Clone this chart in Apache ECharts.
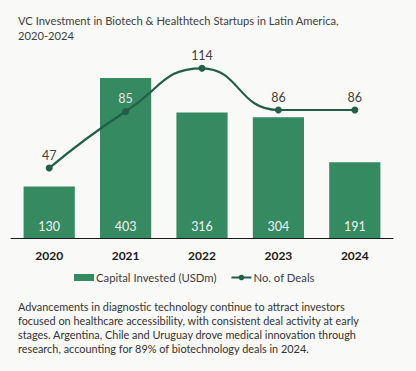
<!DOCTYPE html>
<html><head><meta charset="utf-8">
<script src="https://cdn.jsdelivr.net/npm/echarts@6/dist/echarts.min.js"></script>
<style>html,body{margin:0;padding:0;background:#f9f9f7;}#c{width:416px;height:371px;}</style>
</head><body><div id="c"></div>
<script>
const categories = ['2020','2021','2022','2023','2024'];
const capitalInvested = [130,403,316,304,191];
const numDeals = [47,85,114,86,86];
const titleText = 'VC Investment in Biotech & Healthtech Startups in Latin America,\n2020-2024';
const noteText = 'Advancements in diagnostic technology continue to attract investors\nfocused on healthcare accessibility, with consistent deal activity at early\nstages. Argentina, Chile and Uruguay drove medical innovation through\nresearch, accounting for 89% of biotechnology deals in 2024.';
const FONT = 'Lato';
const chart = echarts.init(document.getElementById('c'), null, {renderer:'svg'});
chart.setOption({
  backgroundColor:'#f9f9f7',
  animation:false,
  title:[
    {text:titleText,left:13,top:8,textStyle:{fontFamily:FONT,fontSize:11.2,fontWeight:'normal',color:'#404040',lineHeight:15}},
    {text:noteText,left:13,top:294,textStyle:{fontFamily:FONT,fontSize:10.9,fontWeight:'normal',color:'#333',lineHeight:14}}
  ],
  legend:{
    top:267,left:69,itemGap:14,itemWidth:20,itemHeight:7,
    textStyle:{fontFamily:FONT,fontSize:11.3,color:'#404040',padding:[0,0,0,-3]},
    data:[{name:'Capital Invested (USDm)',icon:'rect'},{name:'No. of Deals'}]
  },
  grid:{left:11,right:23,top:59.4,bottom:133,containLabel:false},
  xAxis:{type:'category',data:categories,
    axisLine:{lineStyle:{color:'#1a1a1a',width:1}},axisTick:{show:false},
    axisLabel:{fontFamily:FONT,fontSize:12,fontWeight:'bold',color:'#1a1a1a',margin:11}},
  yAxis:[
    {type:'value',min:0,max:450,show:false,splitLine:{show:false}},
    {type:'value',min:0,max:120,show:false,splitLine:{show:false}}
  ],
  series:[
    {name:'Capital Invested (USDm)',type:'bar',data:capitalInvested,barWidth:'67%',yAxisIndex:0,
     itemStyle:{color:'#358a61'},
     label:{show:true,position:'insideBottom',distance:5,color:'#f2f2f2',fontFamily:FONT,fontSize:12.5}},
    {name:'No. of Deals',type:'line',
     data:numDeals.map((v,i)=>i===1?{value:v,label:{color:'#e8e8e8'}}:v),
     yAxisIndex:1,smooth:0.5,
     symbol:'circle',symbolSize:7,
     lineStyle:{color:'#225e4a',width:2.2},itemStyle:{color:'#225e4a'},
     label:{show:true,position:'top',distance:3,fontFamily:FONT,fontSize:12.5,color:'#404040'},
     z:5}
  ]
});
</script></body></html>
